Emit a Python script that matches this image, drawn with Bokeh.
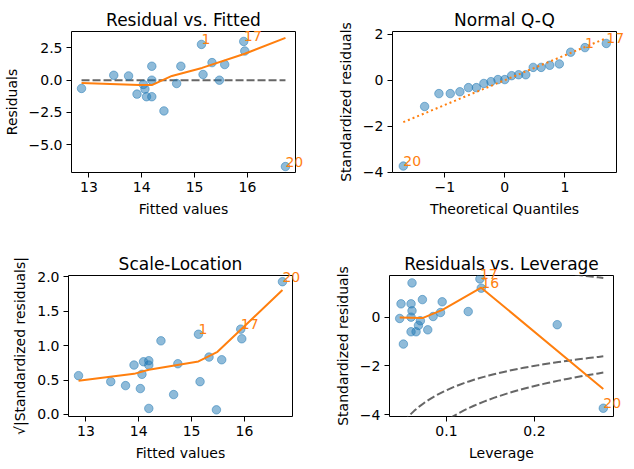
import numpy as np
from bokeh.plotting import figure
from bokeh.layouts import column, row
from bokeh.models import Range1d, FixedTicker, ColumnDataSource
from bokeh.core.properties import value
from bokeh.embed import file_html
from bokeh.resources import INLINE

# ---------------- data ----------------
fitted = [12.86, 13.47, 13.75, 13.91, 14.03, 14.06, 14.09, 14.19, 14.19, 14.19, 14.42,
          14.66, 14.74, 15.13, 15.16, 15.33, 15.47, 15.57, 15.93, 15.95, 16.72]
residuals = [-0.64, 0.38, 0.33, -1.08, -0.33, -0.69, -1.28, -1.28, 1.08, 0.0, -2.38,
             -0.26, 1.08, 2.77, 0.44, 1.36, 0.0, 1.21, 3.0, 2.26, -6.69]
sqrt_abs_std_resid = [0.564, 0.477, 0.419, 0.718, 0.376, 0.583, 0.766, 0.781, 0.718, 0.087, 1.07,
                      0.289, 0.737, 1.166, 0.477, 0.834, 0.067, 0.795, 1.24, 1.10, 1.93]
fit_labels = ["", "", "", "", "", "", "", "", "", "", "",
              "", "", "1", "", "", "", "", "17", "", "20"]

lowess_fit_x = [12.86, 13.95, 14.19, 14.57, 15.14, 15.95, 16.72]
lowess_fit_y = [-0.21, -0.38, -0.38, 0.33, 0.95, 2.05, 3.28]

lowess_scale_x = [12.86, 13.91, 14.19, 15.13, 15.49, 15.97, 16.72]
lowess_scale_y = [0.49, 0.59, 0.65, 0.77, 0.91, 1.26, 1.81]

theoretical_q = [-1.69, -1.335, -1.097, -0.908, -0.748, -0.605, -0.473, -0.349, -0.230, -0.114, 0.0,
                 0.114, 0.230, 0.349, 0.473, 0.605, 0.748, 0.908, 1.097, 1.335, 1.69]
sample_q = [-3.73, -1.14, -0.58, -0.58, -0.50, -0.32, -0.32, -0.14, -0.06, 0.03, 0.03,
            0.20, 0.24, 0.24, 0.56, 0.56, 0.65, 0.71, 1.22, 1.42, 1.60]
qq_labels = ["20", "", "", "", "", "", "", "", "", "", "",
             "", "", "", "", "", "", "", "", "1", "17"]
qq_line_x = [-1.69, 1.69]
qq_line_y = [-1.82, 1.83]

leverage = [0.0468, 0.0483, 0.0510, 0.0597, 0.0597, 0.0608, 0.0608, 0.0597, 0.0654, 0.0681, 0.0703,
            0.0726, 0.0787, 0.0848, 0.0932, 0.0951, 0.1247, 0.1380, 0.1395, 0.2259, 0.2783]
lev_std_resid = [-0.055, 0.546, -1.106, 0.546, 0.0, 1.406, 0.259, -0.60, -0.60, -0.34, -0.15,
                 0.72, -0.52, 0.027, 0.19, 0.63, 0.23, 1.57, 1.19, -0.31, -3.74]
lev_labels = ["", "", "", "", "", "", "", "", "", "", "",
              "", "", "", "", "", "", "17", "16", "", "20"]
lowess_lev_x = [0.0468, 0.0726, 0.0954, 0.1395, 0.2783]
lowess_lev_y = [-0.01, -0.04, 0.30, 1.21, -2.95]

cook_levels = [0.5, 1.0]
n_params = 2

# ---------------- styling ----------------
FONT = "DejaVu Sans"
BLUE = "#1f77b4"
ORANGE = "#ff7f0e"
TICK_FS = "14px"
LAB_FS = "14px"


def make_fig(title, xr, yr, xticks, xlabels, yticks, ylabels, xlab, ylab,
             bl, br, bt, bb):
    p = figure(frame_width=224, frame_height=141,
               x_range=Range1d(*xr), y_range=Range1d(*yr),
               output_backend="svg", toolbar_location=None,
               min_border_left=bl, min_border_right=br,
               min_border_top=bt, min_border_bottom=bb,
               title=title)
    p.title.text_font = FONT
    p.title.text_font_size = "17px"
    p.title.text_font_style = "normal"
    p.title.text_color = "black"
    p.title.align = "center"
    p.title.standoff = 4
    p.grid.visible = False
    p.outline_line_color = "black"
    p.outline_line_alpha = 1
    p.outline_line_width = 1
    for ax, ticks, labs, lab in ((p.xaxis[0], xticks, xlabels, xlab),
                                 (p.yaxis[0], yticks, ylabels, ylab)):
        ax.ticker = FixedTicker(ticks=ticks)
        ax.major_label_overrides = {t: l for t, l in zip(ticks, labs)}
        ax.axis_line_color = None
        ax.major_tick_line_color = "black"
        ax.major_tick_out = 5
        ax.major_tick_in = 0
        ax.minor_tick_line_color = None
        ax.major_label_text_font = FONT
        ax.major_label_text_font_size = TICK_FS
        ax.major_label_text_color = "black"
        ax.major_label_standoff = 4
        ax.axis_label = lab
        ax.axis_label_text_font = FONT
        ax.axis_label_text_font_size = LAB_FS
        ax.axis_label_text_font_style = "normal"
        ax.axis_label_text_color = "black"
        ax.axis_label_standoff = 6
    return p


def add_labels(p, xs, ys, labs):
    src = ColumnDataSource(dict(
        x=[x for x, l in zip(xs, labs) if l],
        y=[y for y, l in zip(ys, labs) if l],
        t=[l for l in labs if l]))
    p.text(x="x", y="y", text="t", source=src, level="overlay",
           text_color=ORANGE, text_font=value(FONT),
           text_font_size="14px", text_align="left", text_baseline="bottom")


fit_ticks = [13, 14, 15, 16]
fit_tlabs = ["13", "14", "15", "16"]
DASH = "8 3"

# Panel 1: Residual vs. Fitted
p1 = make_fig("Residual vs. Fitted", (12.67, 16.91), (-7.15, 3.77),
              fit_ticks, fit_tlabs, [-5, -2.5, 0, 2.5], ["\u22125.0", "\u22122.5", "0.0", "2.5"],
              "Fitted values", "Residuals", 68, 20, 31, 77)
p1.line([min(fitted), max(fitted)], [0, 0], line_color="#555555", line_dash=DASH,
        line_width=2, line_alpha=0.9)
p1.scatter(fitted, residuals, size=8.5, fill_color=BLUE, fill_alpha=0.5,
           line_color=BLUE, line_alpha=0.5)
p1.line(lowess_fit_x, lowess_fit_y, line_color=ORANGE, line_width=2)
add_labels(p1, fitted, residuals, fit_labels)

# Panel 2: Normal Q-Q
p2 = make_fig("Normal Q-Q", (-1.87, 1.86), (-4.01, 2.12),
              [-1, 0, 1], ["\u22121", "0", "1"], [-4, -2, 0, 2], ["\u22124", "\u22122", "0", "2"],
              "Theoretical Quantiles", "Standardized residuals", 77, 12, 31, 77)
p2.scatter(theoretical_q, sample_q, size=8.5, fill_color=BLUE, fill_alpha=0.5,
           line_color=BLUE, line_alpha=0.5)
p2.line(qq_line_x, qq_line_y, line_color=ORANGE, line_dash="2 3", line_width=2)
add_labels(p2, theoretical_q, sample_q, qq_labels)

# Panel 3: Scale-Location
p3 = make_fig("Scale-Location", (12.67, 16.91), (-0.03, 2.02),
              fit_ticks, fit_tlabs, [0, 0.5, 1, 1.5, 2], ["0.0", "0.5", "1.0", "1.5", "2.0"],
              "Fitted values", "\u221a|Standardized residuals|", 68, 20, 24, 46)
p3.scatter(fitted, sqrt_abs_std_resid, size=8.5, fill_color=BLUE, fill_alpha=0.5,
           line_color=BLUE, line_alpha=0.5)
p3.line(lowess_scale_x, lowess_scale_y, line_color=ORANGE, line_width=2)
add_labels(p3, fitted, sqrt_abs_std_resid, fit_labels)

# Panel 4: Residuals vs. Leverage
p4 = make_fig("Residuals vs. Leverage", (0.0352, 0.2899), (-4.08, 1.71),
              [0.1, 0.2], ["0.1", "0.2"], [-4, -2, 0], ["\u22124", "\u22122", "0"],
              "Leverage", "Standardized residuals", 77, 12, 24, 46)
p4.scatter(leverage, lev_std_resid, size=8.5, fill_color=BLUE, fill_alpha=0.5,
           line_color=BLUE, line_alpha=0.5)
h = np.linspace(0.001, max(leverage), 50)
for c in cook_levels:
    r = np.sqrt(c * n_params * (1 - h) / h)
    p4.line(h, r, line_color="#555555", line_dash=DASH, line_width=2, line_alpha=0.9)
    p4.line(h, -r, line_color="#555555", line_dash=DASH, line_width=2, line_alpha=0.9)
p4.line(lowess_lev_x, lowess_lev_y, line_color=ORANGE, line_width=2)
add_labels(p4, leverage, lev_std_resid, lev_labels)

layout = column(row(p1, p2), row(p3, p4))
open("out.html", "w").write(file_html(layout, INLINE))
